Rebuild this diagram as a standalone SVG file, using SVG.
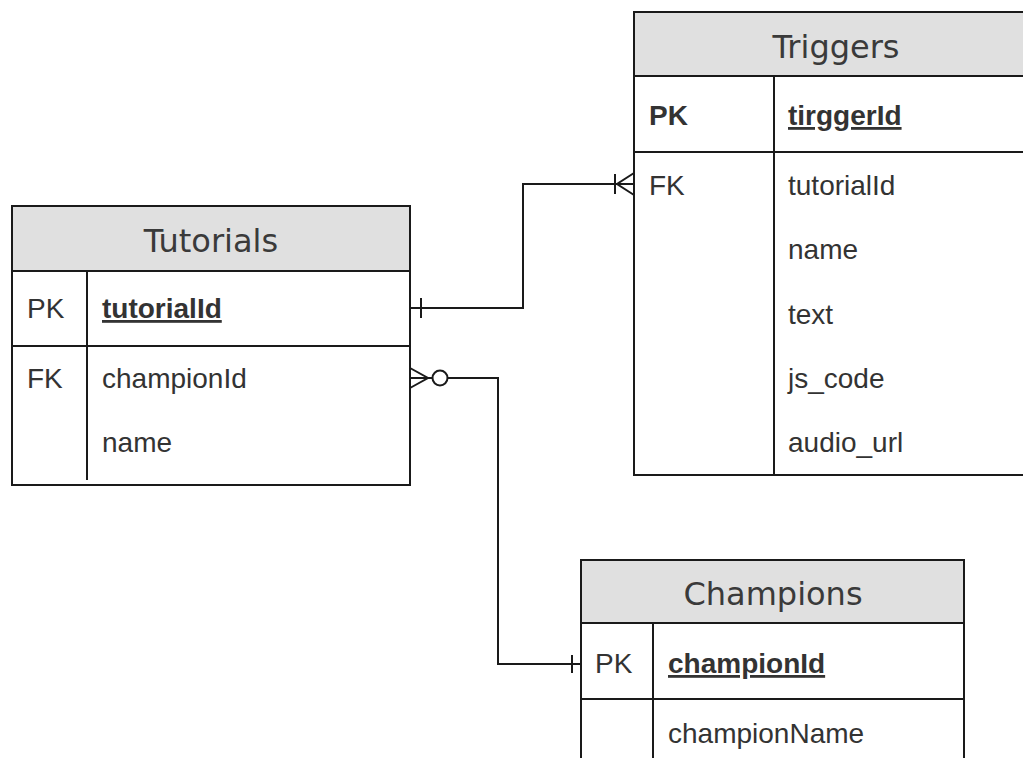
<svg xmlns="http://www.w3.org/2000/svg" width="1023" height="758" viewBox="0 0 1023 758">
<style>
.box{fill:#ffffff;stroke:#1a1a1a;stroke-width:2}
.hdr{fill:#e0e0e0;stroke:#1a1a1a;stroke-width:2}
.ln{stroke:#1a1a1a;stroke-width:2;fill:none}
.title{font-family:"DejaVu Sans",Verdana,sans-serif;font-size:32px;fill:#3a3a3a;text-anchor:middle}
.t{font-family:"Liberation Sans",Arial,sans-serif;font-size:28px;fill:#333}
.b{font-weight:bold}
.u{text-decoration:underline}
</style>
<rect width="1023" height="758" fill="#ffffff"/>
<g id="triggers">
<rect class="box" x="634" y="12" width="406" height="463"/>
<rect class="hdr" x="634" y="12" width="406" height="64"/>
<line class="ln" x1="634" y1="152" x2="1040" y2="152"/>
<line class="ln" x1="774" y1="76" x2="774" y2="475"/>
<text class="title" x="836" y="58">Triggers</text>
<text class="t b" x="649" y="125">PK</text>
<text class="t b u" x="788" y="125">tirggerId</text>
<text class="t" x="649" y="195">FK</text>
<text class="t" x="788" y="195">tutorialId</text>
<text class="t" x="788" y="259">name</text>
<text class="t" x="788" y="324">text</text>
<text class="t" x="788" y="388">js_code</text>
<text class="t" x="788" y="452">audio_url</text>
</g>
<g id="tutorials">
<rect class="box" x="12" y="206" width="398" height="279"/>
<rect class="hdr" x="12" y="206" width="398" height="65"/>
<line class="ln" x1="12" y1="346" x2="410" y2="346"/>
<line class="ln" x1="87" y1="271" x2="87" y2="480"/>
<text class="title" x="211" y="252">Tutorials</text>
<text class="t" x="27" y="318">PK</text>
<text class="t b u" x="102" y="318">tutorialId</text>
<text class="t" x="27" y="388">FK</text>
<text class="t" x="102" y="388">championId</text>
<text class="t" x="102" y="452">name</text>
</g>
<g id="champions">
<rect class="box" x="581" y="560" width="383" height="220"/>
<rect class="hdr" x="581" y="560" width="383" height="63"/>
<line class="ln" x1="581" y1="699" x2="964" y2="699"/>
<line class="ln" x1="653" y1="623" x2="653" y2="780"/>
<text class="title" x="773" y="605">Champions</text>
<text class="t" x="595" y="673">PK</text>
<text class="t b u" x="668" y="673">championId</text>
<text class="t" x="668" y="743">championName</text>
</g>
<g id="connectors">
<path class="ln" d="M410,308 H523 V184 H634"/>
<line class="ln" x1="421" y1="298" x2="421" y2="318"/>
<line class="ln" x1="615" y1="174" x2="615" y2="194"/>
<path class="ln" d="M634,173 L617,184 L634,195"/>
<path class="ln" d="M447,378 H498 V664 H581"/>
<line class="ln" x1="572" y1="655" x2="572" y2="673"/>
<path class="ln" d="M410,368 L428,378 L410,388 M410,378 H432"/>
<circle class="ln" cx="440" cy="378" r="7.5" fill="#fff"/>
</g>
</svg>
